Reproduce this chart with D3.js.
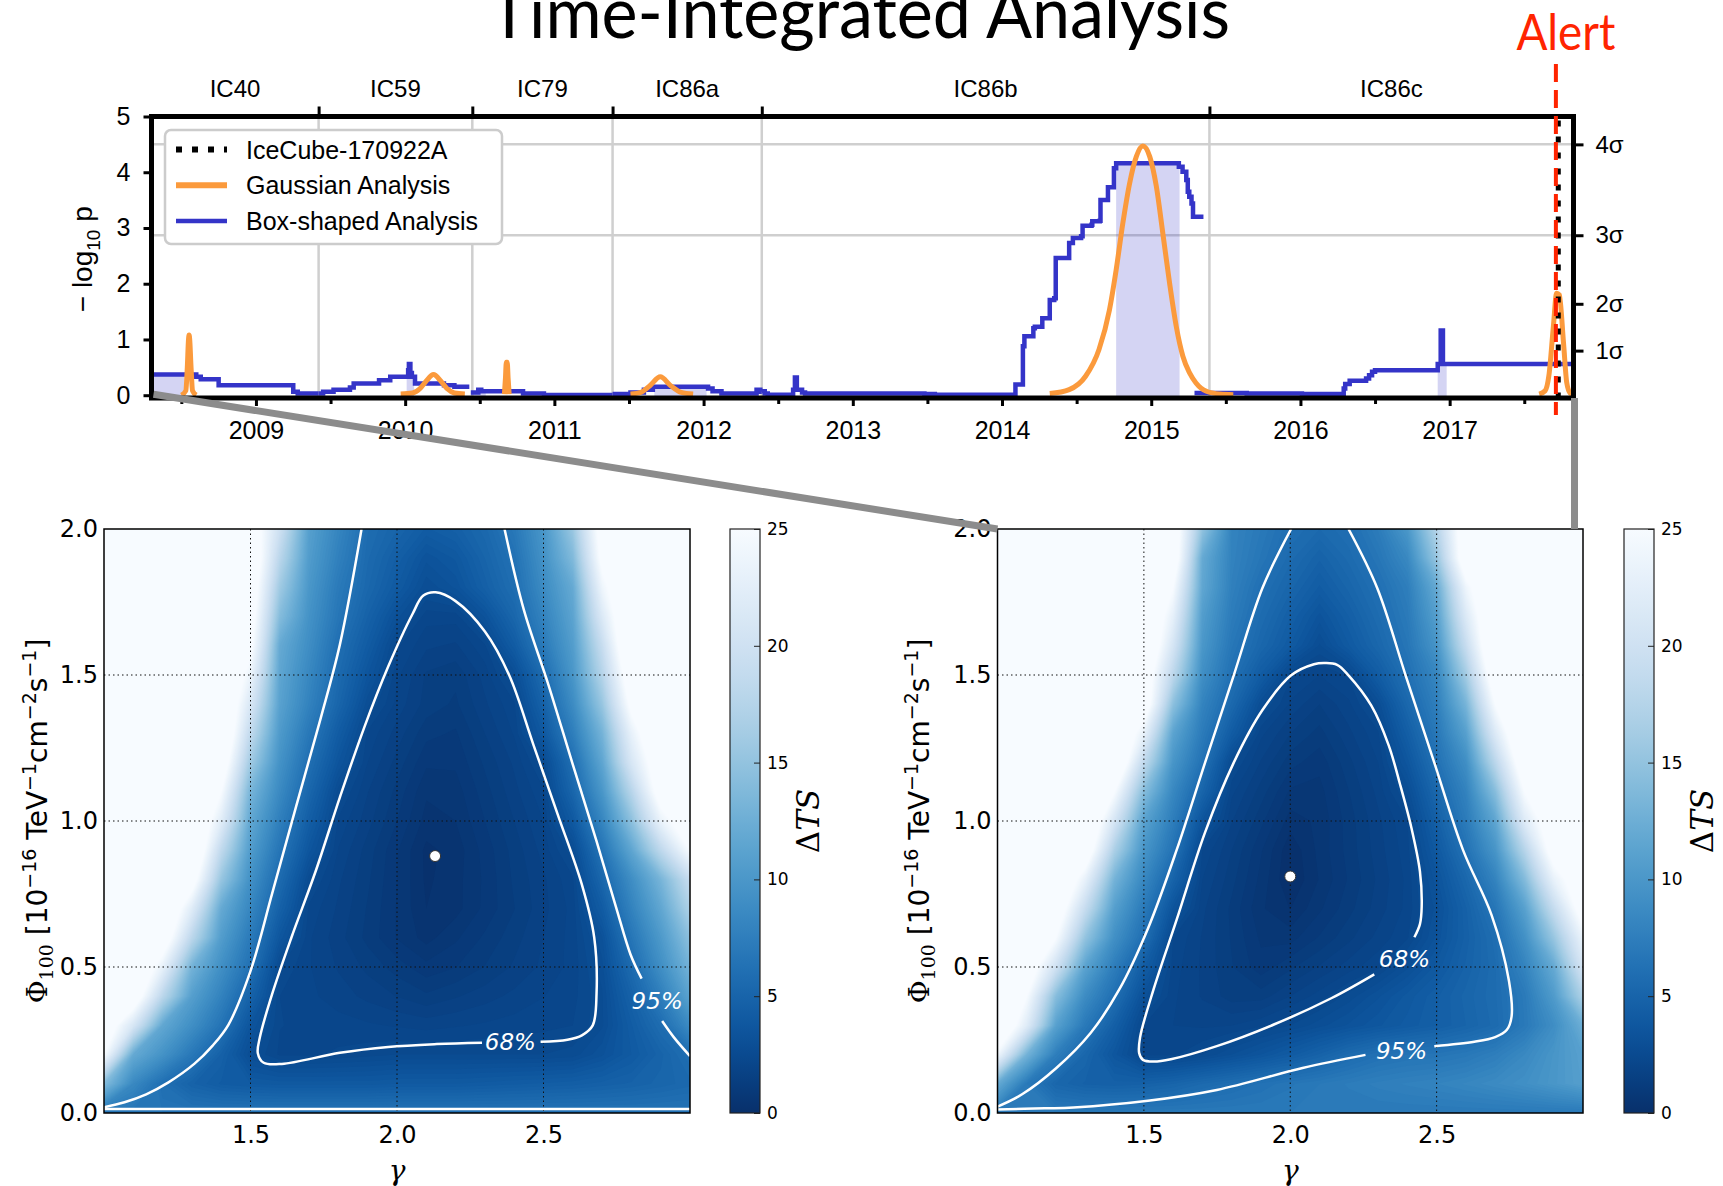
<!DOCTYPE html>
<html>
<head>
<meta charset="utf-8">
<title>Time-Integrated Analysis</title>
<script src="https://cdnjs.cloudflare.com/ajax/libs/d3/7.8.5/d3.min.js"></script>
<style>
  body { margin: 0; background: #fff; }
  svg { display: block; }
</style>
</head>
<body>
<div id="chart"></div>
<script>
// ---------- top panel data ----------
var seasonNames = ["IC40", "IC59", "IC79", "IC86a", "IC86b", "IC86c"];
var seasonEdges = [2008.30, 2009.42, 2010.45, 2011.39, 2012.39, 2015.39, 2017.83];
var yearTicks = [2009, 2010, 2011, 2012, 2013, 2014, 2015, 2016, 2017];
var halfYearTicks = [2008.5, 2009.5, 2010.5, 2011.5, 2012.5, 2013.5, 2014.5, 2015.5, 2016.5, 2017.5];
var pTicks = [0, 1, 2, 3, 4, 5];
var sigmaLabels = ["1σ", "2σ", "3σ", "4σ"];
var sigmaValues = [0.80, 1.64, 2.87, 4.50];
var alertDate = 2017.712;
var iceCubeDate = 2017.728;

// box-shaped analysis, one step line per season [date, -log10 p]
var boxIC40 = [[2008.30,0.37],[2008.60,0.33],[2008.63,0.285],[2008.75,0.18],[2009.25,0.06],[2009.28,0.03],[2009.42,0.03]];
var boxIC59 = [[2009.42,0.03],[2009.45,0.06],[2009.52,0.10],[2009.63,0.14],[2009.655,0.21],[2009.825,0.27],[2009.90,0.33],
  [2010.02,0.45],[2010.025,0.56],[2010.035,0.40],[2010.045,0.33],[2010.066,0.21],[2010.26,0.18],[2010.33,0.15],[2010.43,0.15]];
var boxIC79 = [[2010.44,0.05],[2010.49,0.10],[2010.51,0.07],[2010.79,0.03],[2010.93,0.005],[2011.39,0.005]];
var boxIC86a = [[2011.39,0.02],[2011.51,0.05],[2011.60,0.10],[2011.66,0.15],[2012.03,0.12],[2012.06,0.07],[2012.12,0.03],
  [2012.355,0.10],[2012.38,0.06],[2012.39,0.06]];
var boxIC86b = [[2012.39,0.07],[2012.41,0.03],[2012.43,0.01],[2012.60,0.10],[2012.612,0.32],[2012.625,0.10],[2012.66,0.05],
  [2012.68,0.03],[2013.48,0.02],[2013.55,0.01],[2014.09,0.19],[2014.14,0.88],[2014.15,1.06],[2014.21,1.20],[2014.22,1.23],
  [2014.27,1.38],[2014.32,1.71],[2014.35,1.74],[2014.36,2.46],[2014.45,2.73],[2014.475,2.82],[2014.53,2.85],[2014.54,3.04],
  [2014.60,3.06],[2014.605,3.12],[2014.655,3.13],[2014.66,3.50],[2014.71,3.73],[2014.75,4.07],[2014.765,4.16],[2015.185,4.10],
  [2015.21,4.01],[2015.235,3.86],[2015.245,3.65],[2015.255,3.56],[2015.27,3.44],[2015.28,3.20],[2015.35,3.20]];
var boxIC86c = [[2015.29,0.04],[2015.64,0.03],[2016.01,0.02],[2016.29,0.12],[2016.30,0.20],[2016.33,0.26],[2016.44,0.30],
  [2016.46,0.36],[2016.48,0.42],[2016.50,0.45],[2016.92,0.56],[2016.94,1.16],[2016.955,0.56],[2017.83,0.56]];

// best-fit box window per season [start, end, -log10 p]
var bestWindows = [[2008.31,2008.52,0.37],[2010.01,2010.06,0.33],[2010.44,2010.54,0.07],[2011.67,2012.02,0.15],
  [2014.765,2015.19,4.16],[2016.92,2016.98,0.56]];

// gaussian analysis curves [date, -log10 p]
var gaussA = [[2008.50,0.0],[2008.53,0.08],[2008.54,0.5],[2008.548,1.0],[2008.552,1.08],[2008.556,1.0],[2008.565,0.5],[2008.575,0.08],[2008.60,0.0]];
var gaussB = [[2009.97,0.02],[2010.05,0.04],[2010.10,0.12],[2010.14,0.25],[2010.19,0.37],[2010.24,0.25],[2010.28,0.12],[2010.33,0.04],[2010.40,0.02]];
var gaussC = [[2010.665,0.02],[2010.672,0.3],[2010.678,0.59],[2010.684,0.59],[2010.69,0.3],[2010.697,0.02]];
var gaussD = [[2011.51,0.02],[2011.58,0.05],[2011.64,0.17],[2011.71,0.33],[2011.78,0.17],[2011.85,0.05],[2011.93,0.02]];
var gaussE = [[2014.32,0.03],[2014.45,0.10],[2014.56,0.34],[2014.65,0.82],[2014.72,1.53],[2014.765,2.25],[2014.81,3.09],
  [2014.855,3.80],[2014.90,4.28],[2014.944,4.47],[2014.99,4.28],[2015.034,3.75],[2015.078,2.90],[2015.123,2.01],
  [2015.168,1.23],[2015.212,0.70],[2015.257,0.40],[2015.30,0.22],[2015.37,0.07],[2015.46,0.02],[2015.55,0.01]];
var gaussF = [[2017.60,0.02],[2017.64,0.08],[2017.665,0.35],[2017.695,1.23],[2017.717,1.83],[2017.735,1.80],[2017.763,0.94],
  [2017.785,0.22],[2017.807,0.04],[2017.825,0.02]];

// ---------- bottom panels data ----------
var gammaGrid = [1.0,1.1,1.2,1.3,1.4,1.5,1.6,1.7,1.8,1.9,2.0,2.1,2.2,2.3,2.4,2.5,2.6,2.7,2.8,2.9,3.0];
var fluxGrid = [0.0,0.1,0.2,0.3,0.4,0.5,0.6,0.7,0.8,0.9,1.0,1.1,1.2,1.3,1.4,1.5,1.6,1.7,1.8,1.9,2.0];
var gammaTicks = [1.5, 2.0, 2.5];
var fluxTicks = [0.0, 0.5, 1.0, 1.5, 2.0];
var tsTicks = [0, 5, 10, 15, 20, 25];

// delta TS, one row per flux value (rows = fluxGrid, columns = gammaGrid)
var tsLeft = [
  [6.5,6.5,6.5,6.5,6.5,6.5,6.5,6.5,6.5,6.5,6.5,6.5,6.5,6.5,6.5,6.5,6.5,6.5,6.5,6.5,6.5],
  [14,8.5,6.0,4.8,4.2,4.0,3.9,3.9,3.9,3.9,4.0,4.0,4.0,4.1,4.2,4.3,4.4,4.6,4.8,5.1,5.4],
  [25,12,9.5,6.9,4.7,2.8,2.2,2.2,2.3,2.4,2.5,2.5,2.5,2.5,2.5,2.5,2.6,3.2,4.0,4.9,6.0],
  [28,21,11.7,9.1,6.5,3.5,2.26,2.19,2.11,2.04,1.97,1.9,1.97,2.04,2.11,2.18,2.25,2.7,4.2,5.8,8.8],
  [30,28,18,10.8,7.9,4.8,2.25,2.06,1.87,1.68,1.49,1.3,1.47,1.64,1.82,1.99,2.16,2.7,4.75,7.5,11.25],
  [30,30,23,13,9.2,6.2,2.5,2.02,1.72,1.43,1.13,0.83,0.99,1.26,1.54,1.81,2.09,2.9,5.6,9.1,13],
  [30,30,28,18,10.6,7.1,3.65,2.04,1.6,1.17,0.73,0.4,0.7,1.05,1.4,1.75,2.1,3.2,6.7,10.2,14.6],
  [30,30,30,22,12,8.25,4.7,2.18,1.7,1.22,0.73,0.25,0.4,0.82,1.24,1.67,2.09,4.15,7.9,11.6,16.9],
  [30,30,30,27,15.3,9.3,5.6,2.6,1.8,1.3,0.75,0.2,0.4,0.8,1.3,1.7,2.2,5.2,9.0,13.2,19.1],
  [30,30,30,30,18.5,10.5,6.6,3.6,1.98,1.38,0.78,0.18,0.35,0.85,1.35,1.85,2.67,6.5,11.5,18.2,25],
  [30,30,30,30,22.2,11.7,7.6,4.4,2.2,1.6,1.0,0.4,0.5,1.0,1.5,2.0,3.9,8.2,14.6,23.3,28],
  [30,30,30,30,25,13.2,8.6,5.2,2.6,1.76,1.16,0.54,0.62,1.14,1.66,2.2,5.1,9.9,17.6,27,30],
  [30,30,30,30,28,15.9,9.5,6.0,3.5,2.0,1.4,0.8,0.8,1.3,1.8,2.6,6.0,11.5,21,28,30],
  [30,30,30,30,30,18.5,10.3,6.9,4.2,2.19,1.64,1.08,0.96,1.5,2.03,3.85,7.5,13,23,30,30],
  [30,30,30,30,30,21.1,11.1,7.9,5.1,2.8,1.9,1.4,1.2,1.7,2.2,4.8,8.8,15.3,26,30,30],
  [30,30,30,30,30,23.6,11.5,8.4,5.55,3.5,2.06,1.46,1.32,1.85,2.8,5.7,9.9,17.4,28,30,30],
  [30,30,30,30,30,26,12,9,6,4.15,2.3,1.8,1.7,2.2,4.15,7.1,10.6,19.1,30,30,30],
  [30,30,30,30,30,27,14.1,9.5,6.7,4.75,3.1,2.1,2.1,3.3,5.2,8.0,11.3,21.5,30,30,30],
  [30,30,30,30,30,28,15.9,10.0,7.1,5.3,4.0,2.8,3.3,4.6,5.9,8.8,12,23.8,30,30,30],
  [30,30,30,30,30,29,17.9,10.5,7.7,5.55,4.44,3.33,3.8,5.0,6.3,9.4,13.8,26,30,30,30],
  [30,30,30,30,30,28,19.8,10.9,8.2,5.8,5.0,4.2,4.6,5.4,6.9,9.9,15.5,27,30,30,30]
];
var tsRight = [
  [7,7,7,7,7,7,7,7,7,7,7,7,7,7,7,7,7,7,7,7,7],
  [12,7,5.2,4.7,4.6,4.7,5.0,5.5,5.9,6.3,6.7,7.0,7.3,7.6,7.8,8.0,8.3,8.7,9.2,9.9,10.8],
  [24,13,7.5,5.2,3.6,2.2,2.2,2.5,3.0,3.5,4.1,4.8,5.6,6.2,6.5,6.6,6.9,7.5,8.5,9.8,11],
  [30,22,11,7,4.5,2.25,2.0,1.95,2.0,2.2,2.5,2.9,3.3,3.7,4.1,4.5,5.0,5.6,7.0,9.0,12.5],
  [30,25,14.2,8.8,6.0,3.1,2.05,1.72,1.37,1.38,1.75,2.12,2.6,3.2,3.85,4.45,5.1,5.7,7.1,10.4,16.9],
  [30,28,20,11.2,7.4,4.3,2.12,1.7,1.27,0.85,1.19,1.53,1.87,2.2,2.94,3.85,4.8,5.7,8,12,20.7],
  [30,30,25,15,9.2,6.0,2.25,1.72,1.22,0.7,0.64,1.03,1.43,1.83,2.22,3.33,4.6,5.9,9.3,15.3,23.4],
  [30,30,28,19,10.8,7.1,3.4,1.82,1.18,0.54,0.24,0.7,1.16,1.62,2.08,3.1,4.7,6.7,11,18.9,27],
  [30,30,30,23,13,8.4,4.9,2.0,1.34,0.67,0.0,0.52,1.03,1.55,2.07,3.4,5.3,8,13.9,23.1,28],
  [30,30,30,28,16.7,9.8,6.4,2.23,1.5,0.78,0.05,0.58,1.1,1.63,2.15,3.9,6.3,9.75,17.5,27,30],
  [30,30,30,30,20.7,11.2,7.4,3.45,1.77,1.08,0.37,0.56,1.12,1.68,2.25,4.55,7.2,11.5,21.75,28,30],
  [30,30,30,30,25,14.2,8.4,5.0,2.07,1.38,0.7,0.65,1.24,1.83,2.8,5.35,7.9,14.2,25,30,30],
  [30,30,30,30,30,18.5,9.8,6.3,2.56,1.72,1.1,0.84,1.42,2.0,3.6,6.2,9.1,17.9,28,30,30],
  [30,30,30,30,30,23,11.3,7.2,4.2,2.07,1.5,1.15,1.68,2.2,4.4,6.9,10.9,21.5,30,30,30],
  [30,30,30,30,30,28,14.6,8,5.4,2.8,1.95,1.5,1.94,2.8,5.3,7.6,13.2,25,30,30,30],
  [30,30,30,30,30,28,18.1,9.1,6.2,4.2,2.3,2.0,2.3,4.2,6.1,8.3,16.1,28,30,30,30],
  [30,30,30,30,30,30,20.7,10,6.8,5.24,4.0,2.7,3.97,5.24,6.7,9.7,19.1,30,30,30,30],
  [30,30,30,30,30,30,22.8,10.6,7.3,5.7,4.5,3.4,4.5,5.7,7.1,10.8,21.5,30,30,30,30],
  [30,30,30,30,30,30,25,11.6,7.7,6.1,5.1,4.2,5.1,6.1,7.5,12,23.8,30,30,30,30],
  [30,30,30,30,30,30,28,12,7.9,6.7,5.6,4.8,5.6,6.7,8.5,15.25,28,30,30,30,30],
  [30,30,30,30,30,30,28,14.9,8,7.0,6.0,5.5,6.0,7.3,10,17.4,28,30,30,30,30]
];

// confidence contours [gamma, flux]
var left68 = [[2.49,0.244],[2.582,0.251],[2.631,0.266],[2.668,0.30],[2.681,0.408],[2.673,0.602],[2.631,0.782],[2.549,1.021],
  [2.466,1.26],[2.383,1.499],[2.30,1.649],[2.20,1.753],[2.132,1.783],[2.09,1.772],[2.053,1.709],[1.97,1.529],[1.888,1.32],
  [1.805,1.081],[1.722,0.827],[1.64,0.602],[1.574,0.408],[1.532,0.259],[1.525,0.205],[1.545,0.172],[1.607,0.168],
  [1.805,0.206],[1.97,0.226],[2.136,0.236],[2.29,0.241]];
var left95a = [[1.0,0.02],[1.07,0.037],[1.144,0.064],[1.22,0.105],[1.309,0.169],[1.37,0.23],[1.425,0.303],[1.499,0.483],
  [1.574,0.752],[1.656,1.051],[1.739,1.35],[1.805,1.604],[1.879,2.0]];
var left95b = [[2.367,2.0],[2.433,1.723],[2.516,1.469],[2.598,1.2],[2.681,0.931],[2.747,0.707],[2.797,0.543],[2.835,0.46]];
var left95c = [[2.905,0.315],[2.945,0.259],[3.0,0.195]];
var left95d = [[1.0,0.014],[3.0,0.014]];
var leftLabels = [["68%", 2.387, 0.244], ["95%", 2.888, 0.386]];
var leftBest = [2.13, 0.88];

var right68 = [[2.287,0.475],[2.14,0.393],[1.944,0.303],[1.749,0.229],[1.592,0.184],[1.533,0.176],[1.497,0.182],[1.484,0.205],
  [1.487,0.259],[1.533,0.423],[1.612,0.662],[1.709,0.961],[1.807,1.2],[1.905,1.38],[2.003,1.499],[2.081,1.537],[2.12,1.541],
  [2.16,1.535],[2.199,1.499],[2.277,1.395],[2.336,1.26],[2.375,1.126],[2.414,0.976],[2.443,0.827],[2.449,0.707],
  [2.443,0.647],[2.424,0.602]];
var right95a = [[1.0,0.022],[1.084,0.064],[1.201,0.154],[1.318,0.274],[1.416,0.423],[1.514,0.632],[1.612,0.901],[1.709,1.2],
  [1.807,1.499],[1.905,1.798],[2.003,2.0]];
var right95b = [[2.199,2.0],[2.297,1.798],[2.394,1.499],[2.492,1.2],[2.59,0.901],[2.688,0.677],[2.747,0.453],[2.756,0.33],
  [2.74,0.285],[2.70,0.26],[2.629,0.244],[2.492,0.229]];
var right95c = [[2.257,0.199],[2.042,0.154],[1.749,0.079],[1.514,0.042],[1.26,0.019],[1.162,0.016],[1.0,0.012]];
var rightLabels = [["68%", 2.39, 0.528], ["95%", 2.38, 0.214]];
var rightBest = [2.0, 0.81];

function init(){
    var W = 1723, H = 1186;
    var sans = "'Liberation Sans', Arial, Helvetica, sans-serif";
    var mpl = "'DejaVu Sans', sans-serif";
    var serif = "'DejaVu Serif', serif";
    var slide = "Lato, 'Noto Sans', sans-serif";
    var blue = "#3434c8", orange = "#fb9a3c", red = "#ff2400";

    var svg = d3.select("#chart").append("svg").attr("width", W).attr("height", H);
    svg.append("rect").attr("width", W).attr("height", H).attr("fill", "#fff");
    var defs = svg.append("defs");

    // Title (cut at the top edge like the original slide)
    svg.append("text")
        .attr("x", 489).attr("y", 38)
        .attr("font-family", slide).attr("font-weight", 400)
        .attr("font-size", 72)
        .attr("textLength", 741).attr("lengthAdjust", "spacingAndGlyphs")
        .text("Time-Integrated Analysis");

    // ================= Top panel =================
    var tp = { left: 151.5, right: 1573.5, top: 116.5, bottom: 398 };
    var x = d3.scaleLinear()
        .domain([seasonEdges[0], seasonEdges[seasonEdges.length - 1]])
        .range([tp.left, tp.right]);
    var y = d3.scaleLinear().domain([-0.05, 5]).range([tp.bottom, tp.top]);

    var gt = svg.append("g");

    // grid: season boundaries and 3/4 sigma levels
    gt.selectAll(".vgrid").data(seasonEdges.slice(1, -1)).enter().append("line")
        .attr("x1", function (d) { return x(d); }).attr("x2", function (d) { return x(d); })
        .attr("y1", tp.top).attr("y2", tp.bottom)
        .attr("stroke", "#cfcfcf").attr("stroke-width", 2.5);
    gt.selectAll(".hgrid").data(sigmaValues.slice(2)).enter().append("line")
        .attr("x1", tp.left).attr("x2", tp.right)
        .attr("y1", function (d) { return y(d); }).attr("y2", function (d) { return y(d); })
        .attr("stroke", "#cfcfcf").attr("stroke-width", 2.5);

    // best box windows
    gt.selectAll(".win").data(bestWindows).enter().append("rect")
        .attr("x", function (d) { return x(d[0]); })
        .attr("width", function (d) { return x(d[1]) - x(d[0]); })
        .attr("y", function (d) { return y(d[2]); })
        .attr("height", function (d) { return tp.bottom - y(d[2]); })
        .attr("fill", "rgb(60,60,200)").attr("fill-opacity", 0.22);

    // box-shaped step lines
    var stepLine = d3.line()
        .x(function (d) { return x(d[0]); })
        .y(function (d) { return y(d[1]); })
        .curve(d3.curveStepAfter);
    [boxIC40, boxIC59, boxIC79, boxIC86a, boxIC86b, boxIC86c].forEach(function (s) {
        gt.append("path").datum(s).attr("d", stepLine)
            .attr("fill", "none").attr("stroke", blue).attr("stroke-width", 4.5);
    });

    // gaussian curves
    var smoothLine = d3.line()
        .x(function (d) { return x(d[0]); })
        .y(function (d) { return y(d[1]); })
        .curve(d3.curveMonotoneX);
    [gaussA, gaussB, gaussC, gaussD, gaussE, gaussF].forEach(function (s) {
        gt.append("path").datum(s).attr("d", smoothLine)
            .attr("fill", "none").attr("stroke", orange).attr("stroke-width", 5)
            .attr("stroke-linejoin", "round");
    });

    // IceCube-170922A dotted line
    gt.append("line")
        .attr("x1", x(iceCubeDate)).attr("x2", x(iceCubeDate))
        .attr("y1", tp.top + 4).attr("y2", tp.bottom)
        .attr("stroke", "#000").attr("stroke-width", 5).attr("stroke-dasharray", "6,10");

    // axes
    function styleAxis(g, size) {
        g.select(".domain").remove();
        g.attr("font-family", sans).attr("font-size", size);
        g.selectAll("line").attr("stroke", "#000").attr("stroke-width", 3);
        g.selectAll("text").attr("fill", "#000");
    }
    var gx = gt.append("g").attr("transform", "translate(0," + tp.bottom + ")")
        .call(d3.axisBottom(x).tickValues(yearTicks).tickSize(8).tickPadding(15).tickFormat(d3.format("d")));
    styleAxis(gx, 25);
    var gxm = gt.append("g").attr("transform", "translate(0," + tp.bottom + ")")
        .call(d3.axisBottom(x).tickValues(halfYearTicks).tickSize(6).tickFormat(""));
    styleAxis(gxm, 25);
    var gy = gt.append("g").attr("transform", "translate(" + tp.left + ",0)")
        .call(d3.axisLeft(y).tickValues(pTicks).tickSize(8).tickPadding(13).tickFormat(d3.format("d")));
    styleAxis(gy, 25);
    var gyr = gt.append("g").attr("transform", "translate(" + tp.right + ",0)")
        .call(d3.axisRight(y).tickValues(sigmaValues).tickSize(10).tickPadding(12)
            .tickFormat(function (d, i) { return sigmaLabels[i]; }));
    styleAxis(gyr, 24);
    var gxt = gt.append("g").attr("transform", "translate(0," + tp.top + ")")
        .call(d3.axisTop(x).tickValues(seasonEdges.slice(1, -1)).tickSize(10).tickFormat(""));
    styleAxis(gxt, 24);

    // season names
    gt.selectAll(".season").data(seasonNames).enter().append("text")
        .attr("x", function (d, i) { return x((seasonEdges[i] + seasonEdges[i + 1]) / 2); })
        .attr("y", 97)
        .attr("text-anchor", "middle")
        .attr("font-family", sans).attr("font-size", 24)
        .text(function (d) { return d; });

    // frame
    gt.append("rect")
        .attr("x", tp.left).attr("y", tp.top)
        .attr("width", tp.right - tp.left).attr("height", tp.bottom - tp.top)
        .attr("fill", "none").attr("stroke", "#000").attr("stroke-width", 5);

    // y label
    var yl = gt.append("text")
        .attr("transform", "translate(92," + ((tp.top + tp.bottom) / 2 + 2) + ") rotate(-90)")
        .attr("text-anchor", "middle")
        .attr("font-family", sans).attr("font-size", 28);
    yl.append("tspan").text("− log");
    yl.append("tspan").attr("font-size", 19).attr("dy", 8).text("10");
    yl.append("tspan").attr("dy", -8).text(" p");

    // legend
    var lg = gt.append("g");
    lg.append("rect").attr("x", 165).attr("y", 130).attr("width", 337).attr("height", 114)
        .attr("rx", 6).attr("fill", "#fff").attr("stroke", "#cccccc").attr("stroke-width", 2.5);
    var legendItems = [
        { label: "IceCube-170922A", color: "#000", width: 6, dash: "6,10" },
        { label: "Gaussian Analysis", color: orange, width: 6, dash: null },
        { label: "Box-shaped Analysis", color: blue, width: 4.5, dash: null }
    ];
    legendItems.forEach(function (d, i) {
        var cy = 149.5 + i * 35.7;
        lg.append("line").attr("x1", 176).attr("x2", 227).attr("y1", cy).attr("y2", cy)
            .attr("stroke", d.color).attr("stroke-width", d.width)
            .attr("stroke-dasharray", d.dash);
        lg.append("text").attr("x", 246).attr("y", cy + 9)
            .attr("font-family", sans).attr("font-size", 25).text(d.label);
    });

    // alert marker
    gt.append("line")
        .attr("x1", x(alertDate)).attr("x2", x(alertDate))
        .attr("y1", 64).attr("y2", 415)
        .attr("stroke", red).attr("stroke-width", 4).attr("stroke-dasharray", "18,8");
    gt.append("text")
        .attr("x", x(alertDate) + 10).attr("y", 49.5)
        .attr("text-anchor", "middle")
        .attr("font-family", slide).attr("font-weight", 400)
        .attr("font-size", 50).attr("fill", red)
        .attr("textLength", 99).attr("lengthAdjust", "spacingAndGlyphs")
        .text("Alert");

    // ================= Bottom panels =================
    var color = d3.scaleSequential(function (t) { return d3.interpolateBlues(1 - t); }).domain([0, 25]);

    function drawPanel(id, box, cbx, labelX, grid, lines, labels, best) {
        var xs = d3.scaleLinear().domain([1, 3]).range([box.left, box.right]);
        var ys = d3.scaleLinear().domain([0, 2]).range([box.bottom, box.top]);
        var g = svg.append("g");

        defs.append("clipPath").attr("id", "clip" + id).append("rect")
            .attr("x", box.left).attr("y", box.top)
            .attr("width", box.right - box.left).attr("height", box.bottom - box.top);

        // heat map from the TS grid as stacked filled contours
        var nx = gammaGrid.length, ny = fluxGrid.length;
        var flat = [];
        grid.forEach(function (row) { row.forEach(function (v) { flat.push(v); }); });
        var dg = gammaGrid[1] - gammaGrid[0], df = fluxGrid[1] - fluxGrid[0];
        var proj = d3.geoTransform({
            point: function (px, py) {
                this.stream.point(xs(gammaGrid[0] + (px - 0.5) * dg), ys(fluxGrid[0] + (py - 0.5) * df));
            }
        });
        var geo = d3.geoPath(proj);
        var bands = d3.contours().size([nx, ny]).thresholds(d3.range(0, 25.001, 0.25))(flat);
        var hm = g.append("g").attr("clip-path", "url(#clip" + id + ")");
        hm.selectAll("path").data(bands).enter().append("path")
            .attr("d", geo)
            .attr("fill", function (d) { return color(Math.min(d.value + 0.125, 25)); });

        // dotted grid
        g.selectAll(".vg").data(gammaTicks).enter().append("line")
            .attr("x1", function (d) { return xs(d); }).attr("x2", function (d) { return xs(d); })
            .attr("y1", box.top).attr("y2", box.bottom)
            .attr("stroke", "#111").attr("stroke-width", 1).attr("stroke-dasharray", "1.5,3");
        g.selectAll(".hg").data([0.5, 1.0, 1.5]).enter().append("line")
            .attr("x1", box.left).attr("x2", box.right)
            .attr("y1", function (d) { return ys(d); }).attr("y2", function (d) { return ys(d); })
            .attr("stroke", "#111").attr("stroke-width", 1).attr("stroke-dasharray", "1.5,3");

        // confidence contours
        var cl = d3.line()
            .x(function (d) { return xs(d[0]); })
            .y(function (d) { return ys(d[1]); })
            .curve(d3.curveCatmullRom.alpha(0.5));
        var cg = g.append("g").attr("clip-path", "url(#clip" + id + ")");
        lines.forEach(function (l) {
            cg.append("path").datum(l).attr("d", cl)
                .attr("fill", "none").attr("stroke", "#fff").attr("stroke-width", 2.5);
        });
        labels.forEach(function (l) {
            g.append("text").attr("x", xs(l[1])).attr("y", ys(l[2]))
                .attr("dy", "0.36em").attr("text-anchor", "middle")
                .attr("font-family", mpl).attr("font-style", "italic").attr("font-size", 23)
                .attr("fill", "#fff").text(l[0]);
        });

        // best fit
        g.append("circle").attr("cx", xs(best[0])).attr("cy", ys(best[1])).attr("r", 5.5)
            .attr("fill", "#fff").attr("stroke", "#333").attr("stroke-width", 1);

        // frame
        g.append("rect").attr("x", box.left).attr("y", box.top)
            .attr("width", box.right - box.left).attr("height", box.bottom - box.top)
            .attr("fill", "none").attr("stroke", "#000").attr("stroke-width", 1.5);

        // axes
        var ax = g.append("g").attr("transform", "translate(0," + box.bottom + ")")
            .call(d3.axisBottom(xs).tickValues(gammaTicks).tickSize(0).tickPadding(13).tickFormat(d3.format(".1f")));
        ax.select(".domain").remove();
        ax.attr("font-family", mpl).attr("font-size", 24);
        ax.selectAll("text").attr("fill", "#000");
        var ay = g.append("g").attr("transform", "translate(" + box.left + ",0)")
            .call(d3.axisLeft(ys).tickValues(fluxTicks).tickSize(0).tickPadding(6).tickFormat(d3.format(".1f")));
        ay.select(".domain").remove();
        ay.attr("font-family", mpl).attr("font-size", 24);
        ay.selectAll("text").attr("fill", "#000");

        // gamma label
        g.append("text").attr("x", (box.left + box.right) / 2).attr("y", 1180)
            .attr("text-anchor", "middle")
            .attr("font-family", serif).attr("font-style", "italic").attr("font-size", 28)
            .text("γ");

        // flux label
        var fl = g.append("text")
            .attr("transform", "translate(" + labelX + "," + ((box.top + box.bottom) / 2) + ") rotate(-90)")
            .attr("text-anchor", "middle")
            .attr("font-family", mpl).attr("font-size", 28);
        fl.append("tspan").attr("font-family", serif).text("Φ");
        fl.append("tspan").attr("font-family", serif).attr("font-size", 19).attr("dy", 6).text("100");
        fl.append("tspan").attr("dy", -6).text(" [10");
        fl.append("tspan").attr("font-size", 19).attr("dy", -11).text("−16");
        fl.append("tspan").attr("dy", 11).text(" TeV");
        fl.append("tspan").attr("font-size", 19).attr("dy", -11).text("−1");
        fl.append("tspan").attr("dy", 11).text("cm");
        fl.append("tspan").attr("font-size", 19).attr("dy", -11).text("−2");
        fl.append("tspan").attr("dy", 11).text("s");
        fl.append("tspan").attr("font-size", 19).attr("dy", -11).text("−1");
        fl.append("tspan").attr("dy", 11).text("]");

        // colour bar
        var grad = defs.append("linearGradient").attr("id", "cb" + id)
            .attr("x1", 0).attr("y1", 1).attr("x2", 0).attr("y2", 0);
        d3.range(0, 1.0001, 0.05).forEach(function (t) {
            grad.append("stop").attr("offset", t).attr("stop-color", color(t * 25));
        });
        var cbScale = d3.scaleLinear().domain([0, 25]).range([box.bottom, box.top]);
        g.append("rect").attr("x", cbx).attr("y", box.top).attr("width", 30)
            .attr("height", box.bottom - box.top)
            .attr("fill", "url(#cb" + id + ")").attr("stroke", "#222").attr("stroke-width", 1.2);
        var ac = g.append("g").attr("transform", "translate(" + (cbx + 30) + ",0)")
            .call(d3.axisRight(cbScale).tickValues(tsTicks).tickSize(-6).tickPadding(7));
        ac.select(".domain").remove();
        ac.attr("font-family", mpl).attr("font-size", 17);
        ac.selectAll("line").attr("stroke", "#222");
        ac.selectAll("text").attr("fill", "#000");
        var cl2 = g.append("text")
            .attr("transform", "translate(" + (cbx + 89) + "," + ((box.top + box.bottom) / 2) + ") rotate(-90)")
            .attr("text-anchor", "middle")
            .attr("font-family", serif).attr("font-size", 31);
        cl2.append("tspan").text("Δ");
        cl2.append("tspan").attr("font-style", "italic").text("TS");

        return { xs: xs, ys: ys };
    }

    var leftBox = { left: 104, right: 690, top: 529, bottom: 1113 };
    var rightBox = { left: 997.5, right: 1583, top: 529, bottom: 1113 };
    drawPanel("L", leftBox, 730, 47, tsLeft, [left68, left95a, left95b, left95c, left95d], leftLabels, leftBest);
    var rp = drawPanel("R", rightBox, 1624, 929, tsRight, [right68, right95a, right95b, right95c], rightLabels, rightBest);

    // connector lines from the top panel to the zoomed panel
    svg.append("line")
        .attr("x1", x(seasonEdges[0]) + 2).attr("y1", y(0) - 1)
        .attr("x2", rp.xs(1)).attr("y2", rp.ys(2))
        .attr("stroke", "#8c8c8c").attr("stroke-width", 7);
    svg.append("line")
        .attr("x1", tp.right + 1).attr("y1", tp.bottom)
        .attr("x2", tp.right + 1).attr("y2", rp.ys(2))
        .attr("stroke", "#8c8c8c").attr("stroke-width", 7);
}
window.onload = init;
</script>
</body>
</html>
